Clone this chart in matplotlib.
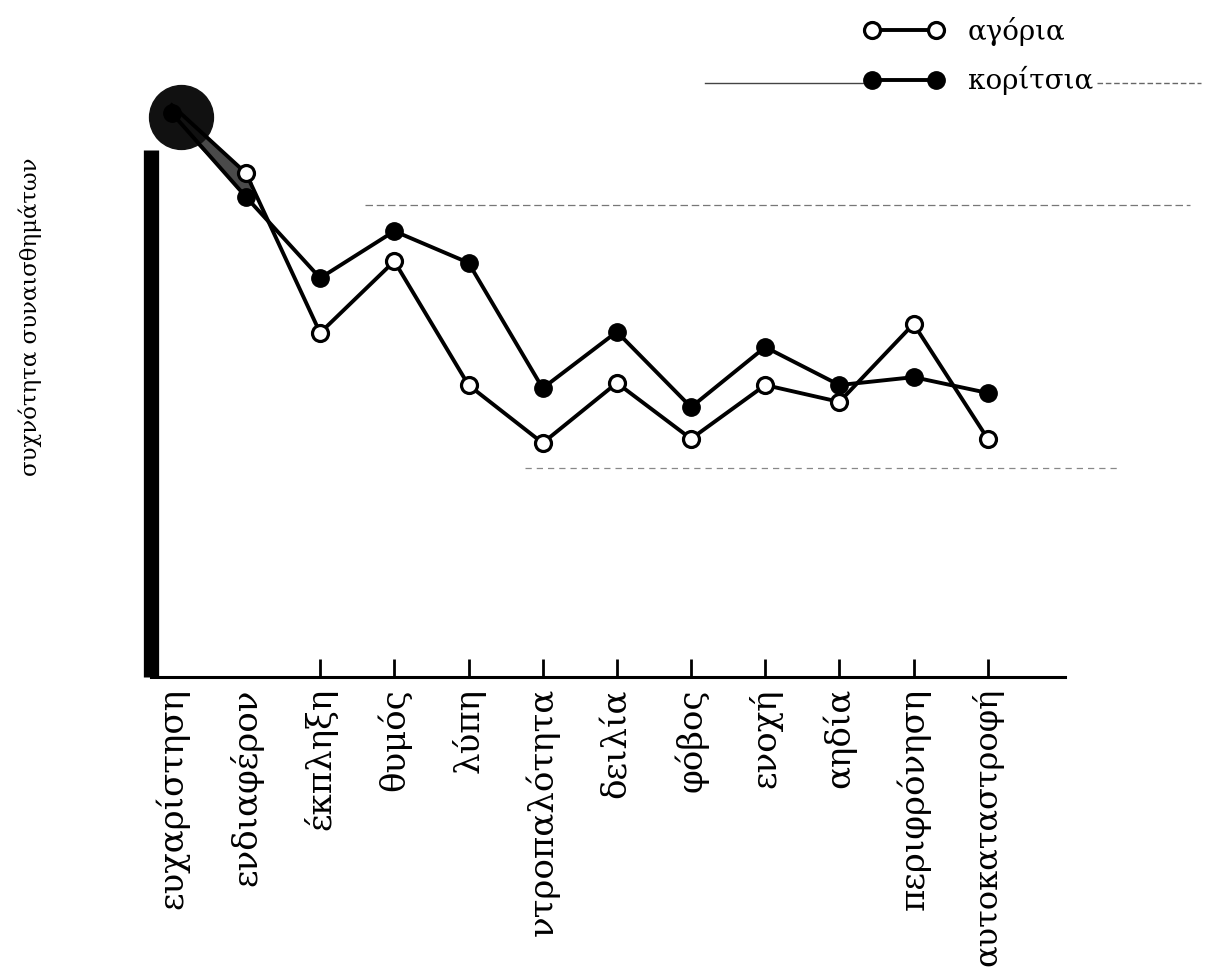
import numpy as np
import matplotlib.pyplot as plt

# emotions on the x axis
emotions = ["ευχαρίστηση", "ενδιαφέρον", "έκπληξη", "θυμός", "λύπη", "ντροπαλότητα",
            "δειλία", "φόβος", "ενοχή", "αηδία", "περιφρόνηση", "αυτοκαταστροφή"]

# frequency (arbitrary units, 0 = x axis, 100 = top of y axis)
boys = [108.5, 95.6, 65.3, 78.9, 55.4, 44.4, 55.8, 45.2, 55.4, 52.2, 67.0, 45.2]
girls = [107.0, 91.1, 75.7, 84.6, 78.6, 54.8, 65.5, 51.2, 62.6, 55.4, 56.9, 53.9]

plt.rcParams['font.family'] = ['DejaVu Serif']

fig = plt.figure(figsize=(12.07, 9.77), dpi=100)
ax = fig.add_axes([0.1251, 0.307, 0.7572, 0.5395])

x = np.arange(len(emotions))

# scan smudge around the first points
mid = (boys[0] + girls[0]) / 2
ax.plot(x[:2], [mid, (boys[1] + girls[1]) / 2], color="#2a2a2a", lw=10, alpha=0.85,
        solid_capstyle="round", clip_on=False, zorder=2)
ax.plot(x[0] + 0.12, mid - 1.5, "o", ms=46, color="#111111", clip_on=False, zorder=2)

ax.plot(x, girls, color="black", lw=2.8, marker="o", ms=12.5, mfc="black", mec="black",
        clip_on=False, zorder=3, label="κορίτσια")
ax.plot(x, boys, color="black", lw=2.8, marker="o", ms=11.5, mfc="white", mec="black",
        mew=2.3, markevery=list(range(1, len(x))), clip_on=False, zorder=4, label="αγόρια")

# faint remnants of grid lines in the scan
ax.axhline(89.6, 0.234, 1.137, color="#777777", lw=0.9, ls=(0, (6, 3)), clip_on=False)
ax.axhline(39.7, 0.409, 1.060, color="#888888", lw=0.9, ls=(0, (5, 4)), clip_on=False)
ax.axhline(112.7, 0.606, 0.790, color="#444444", lw=1.0, clip_on=False)
ax.axhline(112.7, 1.035, 1.149, color="#666666", lw=1.0, ls=(0, (4, 2)), clip_on=False)

ax.set_xlim(-0.28, 12.04)
ax.set_ylim(0, 100)

ax.spines["top"].set_visible(False)
ax.spines["right"].set_visible(False)
ax.spines["left"].set_linewidth(11)
ax.spines["left"].set_capstyle("butt")
ax.spines["bottom"].set_linewidth(2.2)

ax.set_yticks([])
ax.set_xticks(x)
ax.set_xticklabels(emotions, rotation=90, fontsize=24.5, va="top", ha="center")
ax.get_xticklabels()[-1].set_fontsize(23)
ax.tick_params(axis="x", direction="in", length=13, width=2, pad=8)
for t in ax.xaxis.get_major_ticks()[:2]:
    t.tick1line.set_visible(False)

fig.text(0.025, 0.6755, "συχνότητα συναισθημάτων", rotation=90, fontsize=16.5,
         ha="center", va="center")

handles, labels = ax.get_legend_handles_labels()
leg = ax.legend(handles[::-1], labels[::-1], loc="upper left", bbox_to_anchor=(0.702, 1.0),
                bbox_transform=fig.transFigure, frameon=False, numpoints=2, fontsize=20,
                handlelength=2.9, handletextpad=0.83, labelspacing=0.74, borderpad=0.1)
leg.legend_handles[0].set_markevery(None)

plt.savefig("out.png", dpi=100)
